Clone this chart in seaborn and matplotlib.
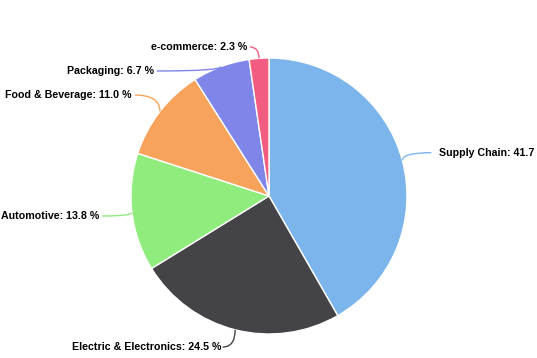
import numpy as np
import matplotlib
matplotlib.use("Agg")
import matplotlib.pyplot as plt
from matplotlib.path import Path
from matplotlib.patches import PathPatch
import seaborn as sns

categories = ["Supply Chain", "Electric & Electronics", "Automotive",
              "Food & Beverage", "Packaging", "e-commerce"]
values = [41.7, 24.5, 13.8, 11.0, 6.7, 2.3]
palette = ["#7cb5ec", "#434348", "#90ed7d", "#f7a35c", "#8085e9", "#f15c80"]

sns.set_theme(style="white")
plt.rcParams["font.family"] = ["Liberation Sans", "DejaVu Sans"]

W, H = 537, 358
fig = plt.figure(figsize=(W / 100, H / 100), dpi=100)
ax = fig.add_axes([0, 0, 1, 1])

cx, cy, r = 269, 162, 138
dist = 30
r_lab = r + dist
ymin, ymax = 11, 311      # label clamp (y up, pixels)
gap = 24                  # minimum vertical label spacing
fs = 7.65
colors = sns.color_palette(palette)

ax.pie(values, colors=colors, startangle=90, counterclock=False,
       center=(cx, cy), radius=r,
       wedgeprops=dict(edgecolor="white", linewidth=1))
ax.set_xlim(0, W)
ax.set_ylim(0, H)
ax.set_aspect("equal")
ax.axis("off")

total = float(sum(values))
cum = np.cumsum([0] + values[:-1])
mids = np.deg2rad(90 - 360 * (cum + np.array(values) / 2) / total)

# initial label positions
labels = []
for i, m in enumerate(mids):
    side = 1 if np.cos(m) >= 0 else -1
    y0 = cy + r_lab * np.sin(m)
    lx = cx + r_lab * np.cos(m)
    ly = min(max(y0, ymin), ymax)
    labels.append(dict(i=i, m=m, side=side, x=lx, y=ly, y0=y0))

# spacing on each side (top to bottom)
for side in (1, -1):
    grp = sorted([l for l in labels if l["side"] == side], key=lambda l: -l["y0"])
    for a, b in zip(grp, grp[1:]):
        if a["y"] - b["y"] < gap:
            b["y"] = a["y"] - gap
            dy = b["y"] - cy
            b["x"] = cx + side * np.sqrt(max(r_lab ** 2 - dy ** 2, 0))

# small nudges for labels pinned to the plot edge
nudge = {"e-commerce": -7, "Electric & Electronics": -5}
pad = {"Electric & Electronics": 1.5}

for l in labels:
    name = categories[l["i"]]
    lx, ly = l["x"] + nudge.get(name, 0), l["y"]
    m = l["m"]
    tx, ty = cx + r * np.cos(m), cy + r * np.sin(m)
    path = Path([(lx, ly), (tx, ly), (tx, ty)],
                [Path.MOVETO, Path.CURVE3, Path.CURVE3])
    ax.add_patch(PathPatch(path, facecolor="none", edgecolor=colors[l["i"]],
                           linewidth=1, zorder=3))
    text = f"{name}: {values[l['i']]:.1f} %"
    if l["side"] > 0 and name != "Electric & Electronics":
        ax.text(lx + 8, ly, text, ha="left", va="center", fontsize=fs,
                fontweight="bold", color="#000000")
    else:
        ax.text(lx - pad.get(name, 3), ly, text, ha="right", va="center",
                fontsize=fs, fontweight="bold", color="#000000")

fig.savefig("out.png", dpi=100)
